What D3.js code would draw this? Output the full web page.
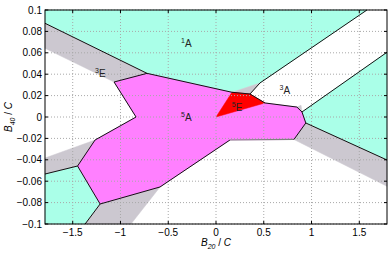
<!DOCTYPE html>
<html>
<head>
<meta charset="utf-8">
<script src="https://cdn.jsdelivr.net/npm/d3@7"></script>
<style>
  body { margin: 0; background: #fff; }
  text { font-family: "Liberation Sans", Arial, sans-serif; }
</style>
</head>
<body>
<svg id="chart" width="390" height="255"></svg>
<script>
// phase regions, points are [B20/C, B40/C]
const cyanTop = [[-1.79, 0.1], [-1.79, 0.0876], [-0.722, 0.0408], [0.167, 0.0231], [0.46, 0.0318], [1.58, 0.1]];
const cyanRight = [[0.90, 0.0047], [1.79, 0.0605], [1.79, -0.0402], [0.94, -0.0056]];
const cyanLeft = [[-1.79, -0.0533], [-1.449, -0.0458], [-1.213, -0.0813], [-1.37, -0.1], [-1.79, -0.1]];
const magenta = [[-1.067, 0.0327], [-0.722, 0.0408], [0.167, 0.0231], [0.356, 0.0215], [0.513, 0.0131],
  [0.847, 0.0093], [0.90, 0.0047], [0.94, -0.0056], [0.816, -0.021], [0.146, -0.0215],
  [-0.586, -0.0654], [-1.213, -0.0813], [-1.449, -0.0458], [-1.266, -0.0215], [-0.837, 0]];
const red = [[0, 0], [0.167, 0.0231], [0.356, 0.0215], [0.513, 0.0131]];
const grayBands = [
  [[-1.79, 0.0876], [-0.722, 0.0408], [-1.067, 0.0327], [-1.79, 0.0642]],
  [[0.167, 0.0231], [0.46, 0.0318], [0.356, 0.0215]],
  [[0.847, 0.0093], [0.89, 0.011], [0.90, 0.0047]],
  [[-1.79, -0.0383], [-1.266, -0.0215], [-1.449, -0.0458], [-1.79, -0.0533]],
  [[-1.213, -0.0813], [-0.586, -0.0654], [-0.89, -0.1], [-1.37, -0.1]],
  [[0.94, -0.0056], [1.79, -0.0402], [1.79, -0.0648], [0.816, -0.021]]
];
const borders = [
  [[-1.79, 0.0876], [-0.722, 0.0408], [0.167, 0.0231], [0.356, 0.0215]],
  [[0.356, 0.0215], [0.46, 0.0318], [1.58, 0.1]],
  [[0.356, 0.0215], [0.513, 0.0131], [0.847, 0.0093], [0.90, 0.0047], [0.94, -0.0056], [0.816, -0.021]],
  [[0.146, -0.0215], [-0.586, -0.0654], [-1.213, -0.0813], [-1.449, -0.0458], [-1.266, -0.0215],
    [-0.837, 0], [-1.067, 0.0327], [-0.722, 0.0408]],
  [[0.90, 0.0047], [1.79, 0.0605]],
  [[0.94, -0.0056], [1.79, -0.0402]],
  [[-1.79, -0.0533], [-1.449, -0.0458]],
  [[-1.213, -0.0813], [-1.37, -0.1]]
];
const grayBorder = [[0.816, -0.021], [0.146, -0.0215]];
const labels = [
  { sup: '1', txt: 'A', x: -0.31, y: 0.069 },
  { sup: '3', txt: 'E', x: -1.21, y: 0.041 },
  { sup: '3', txt: 'A', x: 0.72, y: 0.025 },
  { sup: '5', txt: 'A', x: -0.31, y: 0.0 },
  { sup: '5', txt: 'E', x: 0.22, y: 0.009 }
];
const xTicks = [-1.5, -1, -0.5, 0, 0.5, 1, 1.5];
const yTicks = [0.1, 0.08, 0.06, 0.04, 0.02, 0, -0.02, -0.04, -0.06, -0.08, -0.1];

const plotLeft = 45, plotRight = 387, plotTop = 10, plotBottom = 224;
const x = d3.scaleLinear().domain([-1.79, 1.79]).range([plotLeft, plotRight]);
const y = d3.scaleLinear().domain([-0.1, 0.1]).range([plotBottom, plotTop]);
const svg = d3.select('#chart');
const line = d3.line().x(d => x(d[0])).y(d => y(d[1]));
const fmt = v => String(v).replace('-', '\u2212');

const poly = (pts, fill) => svg.append('path')
  .attr('d', line(pts) + 'Z')
  .attr('fill', fill)
  .attr('stroke', fill)
  .attr('stroke-width', 0.5);

poly(cyanTop, '#aaffe8');
poly(cyanRight, '#aaffe8');
poly(cyanLeft, '#aaffe8');
grayBands.forEach(g => poly(g, '#ccc8d0'));
poly(magenta, '#ff80ff');
poly(red, '#ff0000');

// dotted grid
svg.append('g').selectAll('line').data(xTicks).join('line')
  .attr('x1', d => x(d)).attr('x2', d => x(d)).attr('y1', plotTop).attr('y2', plotBottom)
  .attr('stroke', '#a8a8a8').attr('stroke-width', 1).attr('stroke-dasharray', '1,2');
svg.append('g').selectAll('line').data(yTicks).join('line')
  .attr('x1', plotLeft).attr('x2', plotRight).attr('y1', d => y(d)).attr('y2', d => y(d))
  .attr('stroke', '#a8a8a8').attr('stroke-width', 1).attr('stroke-dasharray', '1,2');

svg.append('path').attr('d', line(grayBorder))
  .attr('fill', 'none').attr('stroke', '#808080').attr('stroke-width', 1.2);
borders.forEach(b => svg.append('path').attr('d', line(b))
  .attr('fill', 'none').attr('stroke', '#111').attr('stroke-width', 1));

// axes, ticks inward like matlab
const ax = svg.append('g');
ax.append('rect').attr('x', plotLeft).attr('y', plotTop)
  .attr('width', plotRight - plotLeft).attr('height', plotBottom - plotTop)
  .attr('fill', 'none').attr('stroke', '#000').attr('stroke-width', 1);
xTicks.forEach(t => {
  ax.append('line').attr('x1', x(t)).attr('x2', x(t)).attr('y1', plotBottom).attr('y2', plotBottom - 3).attr('stroke', '#000');
  ax.append('line').attr('x1', x(t)).attr('x2', x(t)).attr('y1', plotTop).attr('y2', plotTop + 3).attr('stroke', '#000');
  ax.append('text').attr('x', x(t)).attr('y', 236).attr('text-anchor', 'middle')
    .attr('font-size', 10).text(fmt(t));
});
yTicks.forEach(t => {
  ax.append('line').attr('x1', plotLeft).attr('x2', plotLeft + 3).attr('y1', y(t)).attr('y2', y(t)).attr('stroke', '#000');
  ax.append('line').attr('x1', plotRight).attr('x2', plotRight - 3).attr('y1', y(t)).attr('y2', y(t)).attr('stroke', '#000');
  ax.append('text').attr('x', 42).attr('y', y(t) + 3.5).attr('text-anchor', 'end')
    .attr('font-size', 10).text(fmt(t));
});

const xl = svg.append('text').attr('x', x(0)).attr('y', 246).attr('text-anchor', 'middle').attr('font-size', 10);
xl.append('tspan').attr('font-style', 'italic').text('B');
xl.append('tspan').attr('font-size', 7).attr('font-style', 'italic').attr('dy', 2.5).text('20');
xl.append('tspan').attr('dy', -2.5).text(' / ');
xl.append('tspan').attr('font-style', 'italic').text('C');

const yl = svg.append('text').attr('transform', `translate(12,${y(0)}) rotate(-90)`)
  .attr('text-anchor', 'middle').attr('font-size', 10);
yl.append('tspan').attr('font-style', 'italic').text('B');
yl.append('tspan').attr('font-size', 7).attr('font-style', 'italic').attr('dy', 2.5).text('40');
yl.append('tspan').attr('dy', -2.5).text(' / ');
yl.append('tspan').attr('font-style', 'italic').text('C');

labels.forEach(l => {
  const t = svg.append('text').attr('x', x(l.x)).attr('y', y(l.y) + 4)
    .attr('text-anchor', 'middle').attr('font-size', 10).attr('fill', '#222');
  t.append('tspan').attr('font-size', 7).attr('dy', -4).text(l.sup);
  t.append('tspan').attr('dy', 4).text(l.txt);
});
</script>
</body>
</html>
